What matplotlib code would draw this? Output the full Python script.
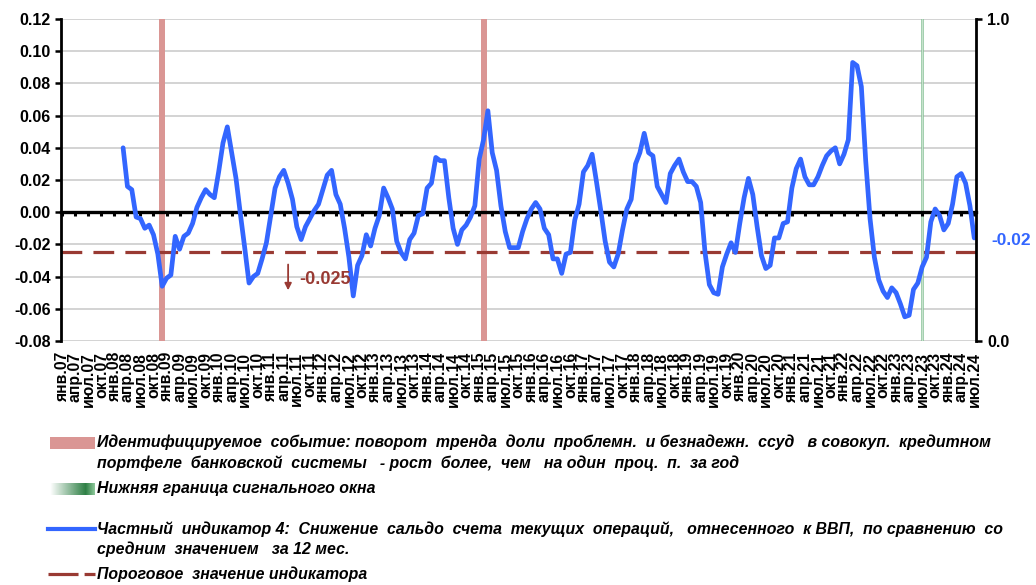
import numpy as np
import matplotlib
matplotlib.use("Agg")
import matplotlib.pyplot as plt
from matplotlib.patches import Rectangle
from matplotlib.lines import Line2D

plt.rcParams['font.family'] = ['Liberation Sans', 'DejaVu Sans']

# ---------------- data ----------------
month_names = ['янв', 'фев', 'мар', 'апр', 'май', 'июн',
               'июл', 'авг', 'сен', 'окт', 'ноя', 'дек']
first_year = 2007
n_months = 211                      # янв.07 ... июл.24
labels = [f"{month_names[i % 12]}.{(first_year + i // 12) % 100:02d}" for i in range(n_months)]

indicator_start = 'мар.08'
indicator = [
    0.040, 0.016, 0.014, -0.003, -0.004, -0.010, -0.008, -0.014, -0.026, -0.046,
    -0.041, -0.039, -0.015, -0.023, -0.015, -0.013, -0.007, 0.003, 0.009, 0.014,
    0.011, 0.009, 0.025, 0.043, 0.053, 0.037, 0.021, -0.001, -0.022, -0.044,
    -0.040, -0.038, -0.029, -0.019, -0.002, 0.015, 0.022, 0.026, 0.018, 0.008,
    -0.009, -0.017, -0.009, -0.004, 0.001, 0.005, 0.014, 0.023, 0.026, 0.011,
    0.005, -0.010, -0.028, -0.052, -0.033, -0.027, -0.014, -0.021, -0.010, -0.002,
    0.015, 0.009, 0.002, -0.018, -0.025, -0.029, -0.017, -0.013, -0.002, -0.001,
    0.015, 0.018, 0.034, 0.032, 0.032, 0.009, -0.010, -0.020, -0.011, -0.008,
    -0.003, 0.004, 0.033, 0.045, 0.063, 0.037, 0.026, 0.004, -0.012, -0.022,
    -0.022, -0.022, -0.012, -0.004, 0.002, 0.006, 0.002, -0.010, -0.014, -0.029,
    -0.029, -0.038, -0.026, -0.025, -0.005, 0.005, 0.025, 0.029, 0.036, 0.019,
    0.001, -0.018, -0.031, -0.034, -0.026, -0.011, 0.002, 0.008, 0.030, 0.037,
    0.049, 0.037, 0.035, 0.016, 0.011, 0.006, 0.024, 0.029, 0.033, 0.025,
    0.019, 0.019, 0.016, 0.006, -0.025, -0.045, -0.050, -0.051, -0.034, -0.026,
    -0.019, -0.025, -0.007, 0.009, 0.021, 0.011, -0.009, -0.027, -0.035, -0.033,
    -0.016, -0.016, -0.007, -0.006, 0.015, 0.027, 0.033, 0.022, 0.017, 0.017,
    0.022, 0.029, 0.035, 0.038, 0.040, 0.030, 0.036, 0.045, 0.093, 0.091,
    0.078, 0.032, -0.004, -0.028, -0.042, -0.049, -0.053, -0.047, -0.050, -0.057,
    -0.065, -0.064, -0.048, -0.044, -0.034, -0.028, -0.006, 0.002, -0.002, -0.011,
    -0.007, 0.005, 0.022, 0.024, 0.018, 0.004, -0.016,
]
threshold = -0.025
event_months = ['дек.08', 'фев.15']          # identified events (right axis = 1)
window_low_months = ['июл.23']               # lower bound of the signal window

legend_texts = [
    "Идентифицируемое  событие: поворот  тренда  доли  проблемн.  и безнадежн.  ссуд   в совокуп.  кредитном\n"
    "портфеле  банковской  системы   - рост  более,  чем   на один  проц.  п.  за год",
    "Нижняя граница сигнального окна",
    "Частный  индикатор 4:  Снижение  сальдо  счета  текущих  операций,   отнесенного  к ВВП,  по сравнению  со\n"
    "средним  значением   за 12 мес.",
    "Пороговое  значение индикатора",
]

# ---------------- styles ----------------
BLUE = '#3366FF'
PINK = '#DA9694'
RED = '#993A33'
GREEN = '#86C196'
GRID = '#C8C8C8'

W, H = 1036, 585
fig = plt.figure(figsize=(W / 100, H / 100), dpi=100)
L, R, T, B = 61, 976, 19, 341
ax = fig.add_axes([L / W, 1 - B / H, (R - L) / W, (B - T) / H])

x_ind = labels.index(indicator_start) + np.arange(len(indicator))
ymin, ymax = -0.08, 0.12
ax.set_xlim(-0.3, n_months - 0.6)
ax.set_ylim(ymin, ymax)

# grid
ax.set_yticks(np.arange(-0.08, 0.1201, 0.02))
ax.yaxis.grid(True, color=GRID, lw=1.1, zorder=0)
ax.set_axisbelow(True)

# events
for lab in event_months:
    i = labels.index(lab)
    ax.axvspan(i - 0.7, i + 0.7, color=PINK, lw=0, zorder=1)
for lab in window_low_months:
    i = labels.index(lab)
    ax.axvline(i, color=GREEN, lw=1.8, zorder=1)
    ax.axvline(i, color='#E2F1E5', lw=0.5, zorder=1)

# threshold
ax.axhline(threshold, color=RED, lw=2.3, dashes=(6.5, 3.5), zorder=2)

# indicator
ax.plot(x_ind, indicator, color=BLUE, lw=3.4, solid_joinstyle='round',
        solid_capstyle='round', zorder=5)

# value label at last point
ax.annotate(f"{indicator[-1]:.2f}", xy=(x_ind[-1], indicator[-1]),
            xytext=(12, -2), textcoords='offset points', ha='left', va='center',
            color=BLUE, fontsize=12.5, fontweight='bold', annotation_clip=False)

# threshold label with arrow
ax.annotate('', xy=(52, -0.0485), xytext=(52, -0.0325),
            arrowprops=dict(arrowstyle='-|>', color=RED, lw=1.3,
                            mutation_scale=10, shrinkA=0, shrinkB=0), zorder=6)
ax.text(54.6, -0.0415, f"{threshold:.3f}", color=RED, fontsize=13,
        fontweight='bold', ha='left', va='center', zorder=6)

# spines / ticks
for s in ['top', 'right', 'bottom']:
    ax.spines[s].set_visible(False)
ax.spines['left'].set_linewidth(2.0)
ax.tick_params(axis='y', direction='out', length=4.5, width=1.8, pad=3,
               labelsize=11.5)
ax.set_yticklabels([f"{v:.2f}" for v in ax.get_yticks()], fontweight='bold')

ticks = np.arange(0, n_months, 3)
ax.set_xticks(ticks)
ax.set_xticklabels([labels[i] for i in ticks], rotation=90, fontweight='bold',
                   fontsize=11.3, va='top', ha='center')
ax.tick_params(axis='x', length=0, pad=8)

# zero axis with tick marks
zero_loc = (0 - ymin) / (ymax - ymin)
secax = ax.secondary_xaxis(zero_loc)
secax.set_xticks(ticks)
secax.set_xticklabels([])
secax.tick_params(axis='x', direction='out', length=3.2, width=2.2, color='black')
secax.spines['bottom'].set_linewidth(2.4)
secax.spines['bottom'].set_color('black')
secax.set_zorder(3)

# right axis
ax2 = ax.twinx()
ax2.set_ylim(0, 1)
ax2.set_yticks([0, 1])
ax2.set_yticklabels(['0.0', '1.0'], fontweight='bold')
ax2.tick_params(axis='y', direction='out', length=4, width=1.8, labelsize=11.5, pad=4)
for s in ['top', 'left', 'bottom']:
    ax2.spines[s].set_visible(False)
ax2.spines['right'].set_linewidth(2.0)
ax2.patch.set_visible(False)

# ---------------- legend ----------------
def fx(px):
    return px / W

def fy(py):
    return 1 - py / H

tkw = dict(fontsize=11.4, fontweight='bold', fontstyle='italic', ha='left',
           va='center', linespacing=1.4)

fig.patches.append(Rectangle((fx(50), fy(449)), fx(95) - fx(50), fy(437) - fy(449),
                             transform=fig.transFigure, color=PINK, lw=0))
fig.text(fx(97), fy(453), legend_texts[0], **tkw)

gax = fig.add_axes([fx(50), fy(495), fx(95) - fx(50), fy(483) - fy(495)])
grad = np.linspace(0, 1, 60)
c0 = np.array([1.0, 1.0, 1.0])
c1 = np.array([0.18, 0.50, 0.27])
c2 = np.array([0.55, 0.78, 0.60])
cols = np.where(grad[:, None] < 0.8,
                c0 + (c1 - c0) * (grad[:, None] / 0.8),
                c1 + (c2 - c1) * ((grad[:, None] - 0.8) / 0.2))
gax.imshow(cols[None, :, :], aspect='auto', extent=(0, 1, 0, 1))
gax.axis('off')
fig.text(fx(97), fy(489), legend_texts[1], **tkw)

fig.lines.append(Line2D([fx(48), fx(95)], [fy(529), fy(529)], transform=fig.transFigure,
                        color=BLUE, lw=3))
fig.text(fx(97), fy(539), legend_texts[2], **tkw)

fig.lines.append(Line2D([fx(48), fx(95)], [fy(574), fy(574)], transform=fig.transFigure,
                        color=RED, lw=2.3, dashes=(9.4, 1.9)))
fig.text(fx(97), fy(574), legend_texts[3], **tkw)

fig.savefig('out.png', dpi=100)
